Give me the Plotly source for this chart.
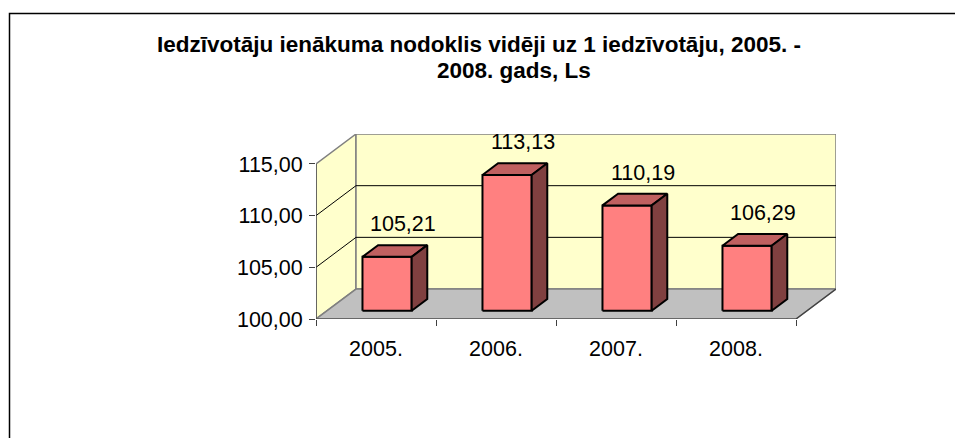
import plotly.graph_objects as go

# ---- data ----
years = ["2005.", "2006.", "2007.", "2008."]
values = [105.21, 113.13, 110.19, 106.29]
y_ticks = [100, 105, 110, 115]
title_lines = ["Iedzīvotāju ienākuma nodoklis vidēji uz 1 iedzīvotāju, 2005. -",
               "2008. gads, Ls"]

# ---- 3D look parameters (style) ----
BASE = 100.0
TOP = 115.0
DX = 1 / 3          # depth offset in category units
DY = 2.9            # depth offset in value units
F0, F1 = 0.277, 0.667   # bar depth span (fraction of full depth)
BW = 0.41           # bar width (category units)
N = len(years)

FONT = "Liberation Sans, Arial, sans-serif"
LBL = 21.5
# plot area in pixels (for placing paper-referenced decorations)
PL, PW, PB, PH = 316, 520, 319, 185


def px(x):
    return (x - PL) / PW


def py(y):
    return (PB - y) / PH


fig = go.Figure()


def poly(xs, ys, fill, line_color, width=1.0):
    fig.add_trace(go.Scatter(x=xs + [xs[0]], y=ys + [ys[0]], mode="lines",
                             fill="toself", fillcolor=fill,
                             line=dict(color=line_color, width=width),
                             hoverinfo="skip", showlegend=False))


def seg(xs, ys, color, width=1.0):
    fig.add_trace(go.Scatter(x=xs, y=ys, mode="lines",
                             line=dict(color=color, width=width),
                             hoverinfo="skip", showlegend=False))


WALL = "#FFFFCC"
FLOOR = "#C0C0C0"
EDGE = "#808080"

# left wall
poly([0, DX, DX, 0], [BASE, BASE + DY, TOP + DY, TOP], WALL, EDGE, 1.5)
# back wall
poly([DX, N + DX, N + DX, DX], [BASE + DY, BASE + DY, TOP + DY, TOP + DY], WALL, EDGE, 1.5)
# floor
poly([0, N, N + DX, DX], [BASE, BASE, BASE + DY, BASE + DY], FLOOR, EDGE, 1.5)

# gridlines on walls
for t in y_ticks[1:-1]:
    seg([0, DX, N + DX], [t, t + DY, t + DY], "#000000", 1.0)

# front axis lines
seg([0, 0], [BASE, TOP], "#404040", 1.2)
seg([0, N, N + DX], [BASE, BASE, BASE + DY], "#404040", 1.2)

# bars
FRONT = "#FF8080"
TOPC = "#C06060"
SIDE = "#804040"
for i, v in enumerate(values):
    x0 = i + 0.5 - BW / 2 + F0 * DX
    x1 = x0 + BW
    y0 = BASE + F0 * DY
    y1 = v + F0 * DY
    ddx = (F1 - F0) * DX
    ddy = (F1 - F0) * DY
    poly([x0, x1, x1, x0], [y0, y0, y1, y1], FRONT, "#000000", 2)
    poly([x0, x1, x1 + ddx, x0 + ddx], [y1, y1, y1 + ddy, y1 + ddy], TOPC, "#000000", 2)
    poly([x1, x1 + ddx, x1 + ddx, x1], [y0, y0 + ddy, y1 + ddy, y1], SIDE, "#000000", 2)
    fig.add_annotation(x=i + 0.5 + F1 * DX, y=v + F1 * DY,
                       text=f"{v:.2f}".replace(".", ","),
                       showarrow=False, yanchor="middle", xanchor="center",
                       yshift=21, font=dict(family=FONT, size=LBL, color="#000000"))

# title (two centred lines)
for txt, cx, cy in zip(title_lines, [479, 514], [44, 70]):
    fig.add_annotation(x=px(cx), y=py(cy), xref="paper", yref="paper",
                       text="<b>" + txt + "</b>", showarrow=False,
                       xanchor="center", yanchor="middle",
                       font=dict(family=FONT, size=22.5, color="#000000"))

fig.update_layout(
    width=955, height=438,
    margin=dict(l=PL, r=955 - PL - PW, t=PB - PH, b=438 - PB, autoexpand=False),
    paper_bgcolor="white", plot_bgcolor="rgba(0,0,0,0)",
    separators=",.",
    font=dict(family=FONT, color="#000000"),
    xaxis=dict(range=[0, N + DX], showgrid=False, zeroline=False, showline=False,
               tickvals=[i + 0.5 for i in range(N)], ticktext=years, ticks="",
               ticklabelstandoff=14,
               tickfont=dict(family=FONT, size=LBL, color="#000000"),
               minor=dict(tickvals=list(range(N + 1)), ticks="outside", ticklen=6,
                          tickcolor="#404040", tickwidth=1.2, showgrid=False),
               fixedrange=True),
    yaxis=dict(range=[BASE, TOP + DY], showgrid=False, zeroline=False, showline=False,
               tickvals=y_ticks, tickformat=".2f", ticks="outside", ticklen=6,
               tickcolor="#404040", tickwidth=1.2, ticklabelstandoff=2,
               tickfont=dict(family=FONT, size=LBL, color="#000000"),
               fixedrange=True),
    shapes=[dict(type="rect", xref="paper", yref="paper",
                 x0=px(9.5), x1=px(962), y0=py(446), y1=py(13.5),
                 line=dict(color="#000000", width=1.5), fillcolor="rgba(0,0,0,0)",
                 layer="above")],
)

fig.write_html("out.html", config={"displayModeBar": False},
               post_script="document.body.style.margin='0';")
